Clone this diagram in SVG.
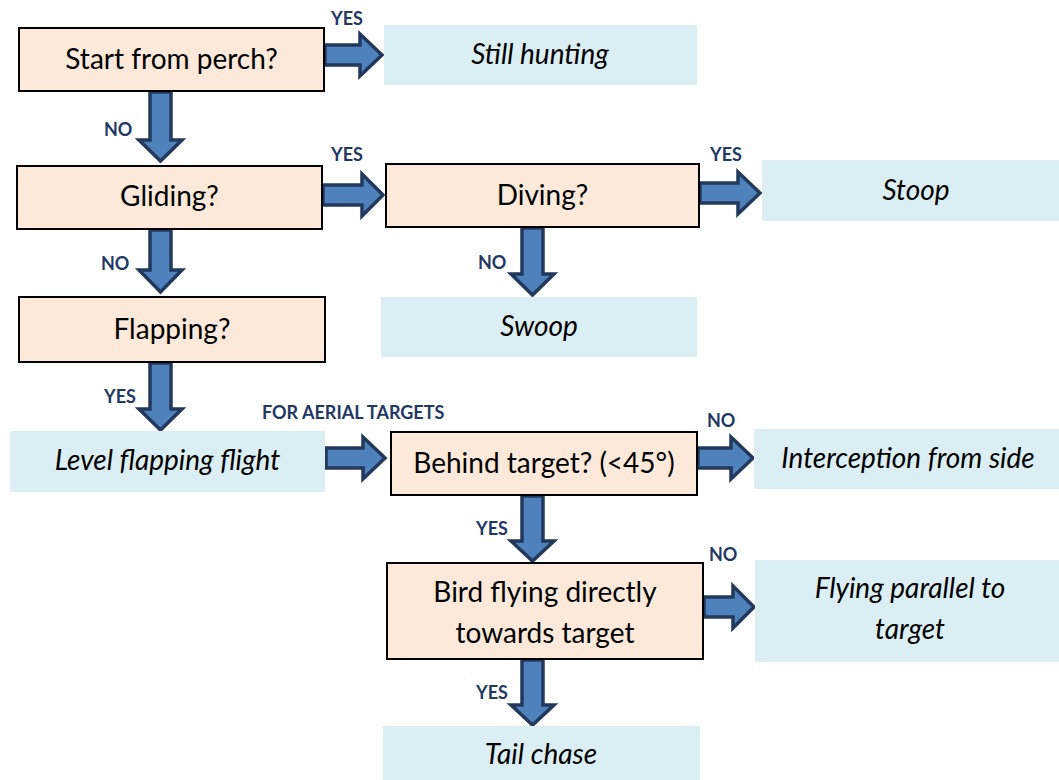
<svg xmlns="http://www.w3.org/2000/svg" width="1059" height="780" viewBox="0 0 1059 780">
  <style>
    .q { fill: #fde9d9; stroke: #000; stroke-width: 2; }
    .r { fill: #daeef3; }
    .qt { font-family: Lato, "Open Sans", sans-serif; font-size: 28px; fill: #000; text-anchor: middle; }
    .rt { font-family: Lato, "Open Sans", sans-serif; font-size: 28px; font-style: italic; fill: #000; text-anchor: middle; }
    .lb { font-family: Lato, "Open Sans", sans-serif; font-size: 18px; font-weight: bold; fill: #1f3864; }
    .ar { fill: #4f81bd; stroke: #22395c; stroke-width: 3.5; stroke-linejoin: miter; }
  </style>

  <!-- connectors: block arrows, shaft 20 wide, head 42 wide -->
  <g id="connectors">
    <!-- Start from perch? YES -> Still hunting -->
    <path class="ar" d="M325,45 H360 V34 L382,55 L360,76 V65 H325 Z"/>
    <!-- Start from perch? NO -> Gliding? -->
    <path class="ar" d="M150,92 V140 H139 L160.5,161 L182,140 H171 V92 Z"/>
    <!-- Gliding? YES -> Diving? -->
    <path class="ar" d="M323,185 H362 V174 L383,195 L362,216 V205 H323 Z"/>
    <!-- Gliding? NO -> Flapping? -->
    <path class="ar" d="M150,230 V270 H139 L160.5,292 L182,270 H171 V230 Z"/>
    <!-- Diving? YES -> Stoop -->
    <path class="ar" d="M700,183 H738 V172 L760,193 L738,214 V203 H700 Z"/>
    <!-- Diving? NO -> Swoop -->
    <path class="ar" d="M522,228 V274 H511 L532.5,295 L554,274 H543 V228 Z"/>
    <!-- Flapping? YES -> Level flapping flight -->
    <path class="ar" d="M150,363 V409 H139 L160.5,430 L182,409 H171 V363 Z"/>
    <!-- Level flapping flight -> Behind target? -->
    <path class="ar" d="M326,448 H363 V437 L385,458 L363,479 V468 H326 Z"/>
    <!-- Behind target? NO -> Interception from side -->
    <path class="ar" d="M698,448 H731 V437 L753,458 L731,479 V468 H698 Z"/>
    <!-- Behind target? YES -> Bird flying directly towards target -->
    <path class="ar" d="M522,496 V541 H511 L532.5,561 L554,541 H543 V496 Z"/>
    <!-- Bird flying directly towards target NO -> Flying parallel to target -->
    <path class="ar" d="M704,597 H733 V586 L754,607 L733,628 V617 H704 Z"/>
    <!-- Bird flying directly towards target YES -> Tail chase -->
    <path class="ar" d="M522,660 V705 H511 L532.5,725 L554,705 H543 V660 Z"/>
  </g>

  <!-- connector labels -->
  <g id="labels">
    <text class="lb" x="331" y="25">YES</text>
    <text class="lb" x="104" y="136">NO</text>
    <text class="lb" x="331" y="161">YES</text>
    <text class="lb" x="710" y="161">YES</text>
    <text class="lb" x="101" y="270">NO</text>
    <text class="lb" x="478" y="269">NO</text>
    <text class="lb" x="104" y="403">YES</text>
    <text class="lb" x="262" y="419">FOR AERIAL TARGETS</text>
    <text class="lb" x="707" y="427">NO</text>
    <text class="lb" x="476" y="535">YES</text>
    <text class="lb" x="709" y="561">NO</text>
    <text class="lb" x="476" y="699">YES</text>
  </g>

  <g id="n-perch">
    <rect class="q" x="19" y="28" width="305" height="63"/>
    <text class="qt" x="171.5" y="69">Start from perch?</text>
  </g>
  <g id="n-still">
    <rect class="r" x="384" y="25" width="313" height="60"/>
    <text class="rt" x="540" y="64">Still hunting</text>
  </g>
  <g id="n-gliding">
    <rect class="q" x="17" y="166" width="305" height="63"/>
    <text class="qt" x="169.5" y="206">Gliding?</text>
  </g>
  <g id="n-diving">
    <rect class="q" x="386" y="164" width="313" height="63"/>
    <text class="qt" x="542.5" y="205">Diving?</text>
  </g>
  <g id="n-stoop">
    <rect class="r" x="762" y="160" width="297" height="61"/>
    <text class="rt" x="916" y="200">Stoop</text>
  </g>
  <g id="n-flapping">
    <rect class="q" x="19" y="297" width="306" height="65"/>
    <text class="qt" x="172" y="339">Flapping?</text>
  </g>
  <g id="n-swoop">
    <rect class="r" x="381" y="297" width="316" height="60"/>
    <text class="rt" x="539" y="336">Swoop</text>
  </g>
  <g id="n-level">
    <rect class="r" x="10" y="431" width="315" height="61"/>
    <text class="rt" x="167.5" y="470">Level flapping flight</text>
  </g>
  <g id="n-behind">
    <rect class="q" x="391" y="432" width="306" height="63"/>
    <text class="qt" x="544" y="473">Behind target? (&lt;45°)</text>
  </g>
  <g id="n-intercept">
    <rect class="r" x="754" y="429" width="305" height="60"/>
    <text class="rt" x="908" y="468">Interception from side</text>
  </g>
  <g id="n-bird">
    <rect class="q" x="387" y="563" width="316" height="96"/>
    <text class="qt" x="545" y="602">Bird flying directly</text>
    <text class="qt" x="545" y="643">towards target</text>
  </g>
  <g id="n-parallel">
    <rect class="r" x="755" y="560" width="304" height="102"/>
    <text class="rt" x="910" y="598">Flying parallel to</text>
    <text class="rt" x="910" y="639">target</text>
  </g>
  <g id="n-tail">
    <rect class="r" x="383" y="726" width="317" height="54"/>
    <text class="rt" x="541" y="764">Tail chase</text>
  </g>
</svg>
